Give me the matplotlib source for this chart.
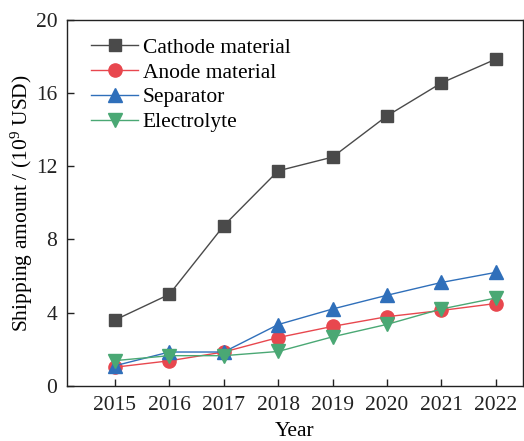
import numpy as np
import matplotlib
matplotlib.use('Agg')
import matplotlib.pyplot as plt

plt.rcParams['font.family'] = ['Liberation Serif', 'DejaVu Serif']
plt.rcParams['mathtext.default'] = 'regular'

years = [2015, 2016, 2017, 2018, 2019, 2020, 2021, 2022]
cathode = [3.6, 5.0, 8.75, 11.75, 12.5, 14.75, 16.55, 17.85]
anode = [1.02, 1.37, 1.85, 2.64, 3.25, 3.78, 4.12, 4.5]
separator = [1.1, 1.85, 1.85, 3.35, 4.2, 4.95, 5.65, 6.2]
electrolyte = [1.38, 1.65, 1.65, 1.88, 2.68, 3.36, 4.2, 4.8]


def main():
    fig = plt.figure(figsize=(5.24, 4.41), dpi=100)
    ax = fig.add_axes([0.128, 0.125, 0.87, 0.83])

    ax.plot(years, cathode, color='#4a4a4a', marker='s', markersize=8.5,
            lw=1.0, label='Cathode material')
    ax.plot(years, anode, color='#e8474e', marker='o', markersize=9.5,
            lw=1.0, label='Anode material')
    ax.plot(years, separator, color='#2f6fba', marker='^', markersize=10,
            lw=1.0, label='Separator')
    ax.plot(years, electrolyte, color='#4aa874', marker='v', markersize=10,
            lw=1.0, label='Electrolyte')

    ax.set_xlim(2014.12, 2022.5)
    ax.set_ylim(0, 20)
    ax.set_xticks(years)
    ax.set_yticks([0, 4, 8, 12, 16, 20])
    ax.tick_params(direction='in', labelsize=15.5, length=5, width=1,
                   colors='#222222', pad=7)
    for s in ax.spines.values():
        s.set_linewidth(1.0)
        s.set_color('#222222')

    ax.set_xlabel('Year', fontsize=15.5, labelpad=5)
    ax.set_ylabel('Shipping amount / (10$^{9}$ USD)', fontsize=15.5, labelpad=0.5)

    ax.legend(loc='upper left', frameon=False, fontsize=15.5, handlelength=2.2,
              handletextpad=0.2, labelspacing=0.22, borderaxespad=0.6,
              bbox_to_anchor=(0.005, 1.01))

    fig.savefig('out.png', dpi=100)


if __name__ == '__main__':
    main()
